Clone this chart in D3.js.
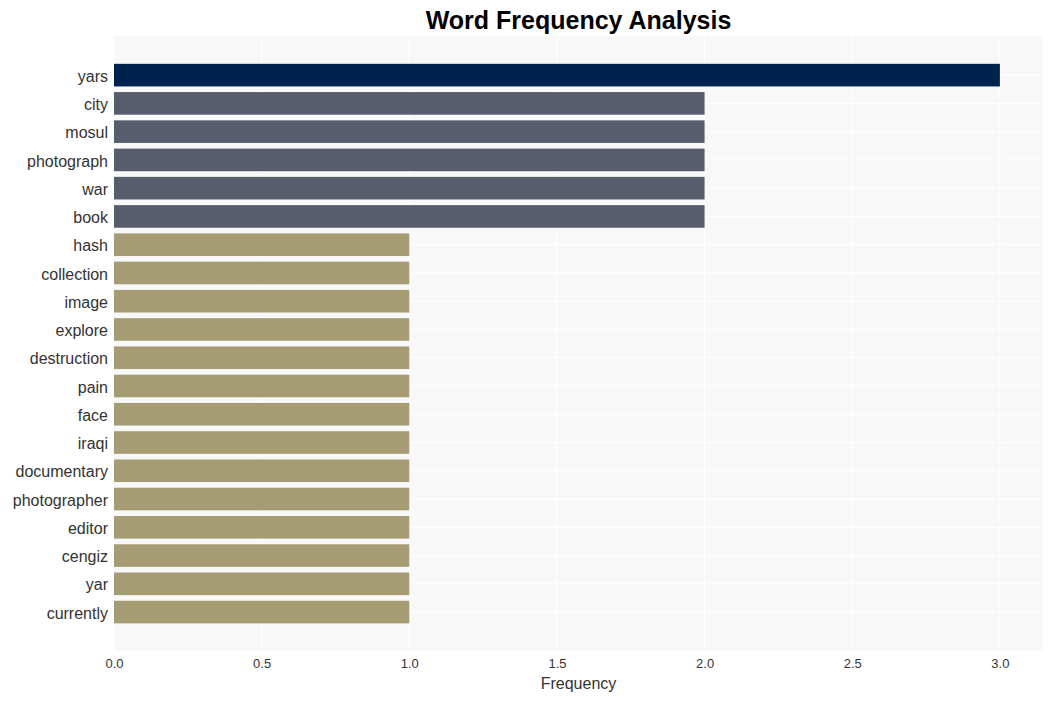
<!DOCTYPE html>
<html>
<head>
<meta charset="utf-8">
<script src="https://cdn.jsdelivr.net/npm/d3@7"></script>
<style>
  body { margin: 0; background: #fff; }
  text { font-family: "Liberation Sans", Arial, sans-serif; }
</style>
</head>
<body>
<svg width="1053" height="701"></svg>
<script>
var words = ["yars", "city", "mosul", "photograph", "war", "book", "hash", "collection",
	"image", "explore", "destruction", "pain", "face", "iraqi", "documentary",
	"photographer", "editor", "cengiz", "yar", "currently"];
var counts = [3, 2, 2, 2, 2, 2, 1, 1, 1, 1, 1, 1, 1, 1, 1, 1, 1, 1, 1, 1];
var xTicks = [0, 0.5, 1, 1.5, 2, 2.5, 3];

var svg = d3.select("svg");
var plotLeft = 114, plotRight = 1043, plotTop = 36, plotBottom = 651;

var x = d3.scaleLinear().domain([0, 3.146]).range([plotLeft, plotRight]);
var y = d3.scaleBand().domain(words).range([61, 626.2]).paddingInner(0.2).paddingOuter(0.1);

// bar colour by value
var colour = function(v) {
	if (v >= 3) return "#00224e";
	if (v >= 2) return "#575d6d";
	return "#a59c74";
};

svg.append("rect")
	.attr("x", plotLeft).attr("y", plotTop)
	.attr("width", plotRight - plotLeft).attr("height", plotBottom - plotTop)
	.attr("fill", "#f8f8f8");

// grid
svg.selectAll(".vgrid")
	.data(xTicks)
	.enter()
	.append("line")
	.attr("x1", function(d) { return x(d); })
	.attr("x2", function(d) { return x(d); })
	.attr("y1", plotTop).attr("y2", plotBottom)
	.attr("stroke", "#fff").attr("stroke-width", 1);

svg.selectAll(".hgrid")
	.data(words)
	.enter()
	.append("line")
	.attr("x1", plotLeft).attr("x2", plotRight)
	.attr("y1", function(d) { return y(d) + y.bandwidth() / 2; })
	.attr("y2", function(d) { return y(d) + y.bandwidth() / 2; })
	.attr("stroke", "#fff").attr("stroke-width", 1);

// bars
svg.selectAll(".bar")
	.data(words)
	.enter()
	.append("rect")
	.attr("x", x(0))
	.attr("y", function(d) { return y(d); })
	.attr("width", function(d, i) { return x(counts[i]) - x(0); })
	.attr("height", y.bandwidth())
	.attr("fill", function(d, i) { return colour(counts[i]); });

// axes
var xAxis = svg.append("g")
	.attr("transform", "translate(0," + plotBottom + ")")
	.call(d3.axisBottom(x).tickValues(xTicks).tickFormat(d3.format(".1f")).tickSize(0).tickPadding(8));
xAxis.select(".domain").remove();
xAxis.attr("font-size", null).attr("font-family", null);
xAxis.selectAll("text").style("font-size", "13px").attr("fill", "#333");

var yAxis = svg.append("g")
	.attr("transform", "translate(" + plotLeft + ",1.5)")
	.call(d3.axisLeft(y).tickSize(0).tickPadding(6));
yAxis.select(".domain").remove();
yAxis.attr("font-size", null).attr("font-family", null);
yAxis.selectAll("text").style("font-size", "16px").attr("fill", "#333");

svg.append("text")
	.attr("x", (plotLeft + plotRight) / 2).attr("y", 689)
	.attr("text-anchor", "middle")
	.style("font-size", "16px").attr("fill", "#333")
	.text("Frequency");

svg.append("text")
	.attr("x", (plotLeft + plotRight) / 2).attr("y", 29)
	.attr("text-anchor", "middle")
	.style("font-size", "25px").attr("font-weight", "bold").attr("fill", "#000")
	.text("Word Frequency Analysis");
</script>
</body>
</html>
